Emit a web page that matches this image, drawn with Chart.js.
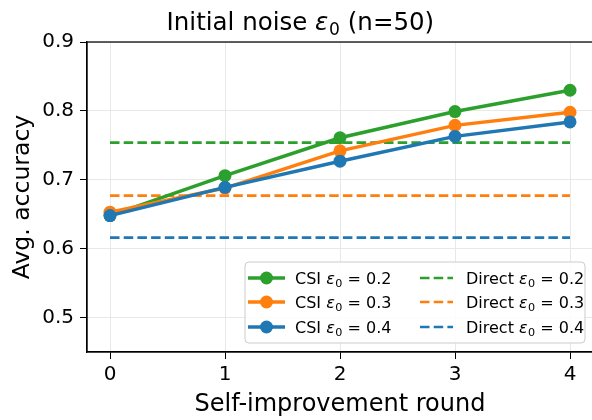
<!DOCTYPE html>
<html>
<head>
<meta charset="utf-8">
<script src="https://cdn.jsdelivr.net/npm/chart.js@4.4.0/dist/chart.umd.min.js"></script>
<style>
html,body{margin:0;padding:0;background:#fff;overflow:hidden}
#wrap{width:600px;height:420px}
</style>
</head>
<body>
<div id="wrap"><canvas id="c" width="600" height="420"></canvas></div>
<script>
// accuracy per self-improvement round, one list per initial noise level
const rounds = [0, 1, 2, 3, 4];
const noiseLevels = ['0.2', '0.3', '0.4'];
const csiNoise02 = [0.648, 0.706, 0.761, 0.799, 0.830];
const csiNoise03 = [0.653, 0.688, 0.742, 0.779, 0.798];
const csiNoise04 = [0.648, 0.689, 0.727, 0.763, 0.784];
const directAcc = [0.754, 0.677, 0.616];
const yTicks = [0.5, 0.6, 0.7, 0.8, 0.9];
const colors = ['#2ca02c', '#ff7f0e', '#1f77b4'];

const FONT = "'DejaVu Sans', sans-serif";
const csiSeries = [csiNoise02, csiNoise03, csiNoise04];

const pts = arr => arr.map((v, i) => ({x: rounds[i], y: v}));
const flat = v => [{x: rounds[0], y: v}, {x: rounds[rounds.length - 1], y: v}];

// first dataset is painted last in Chart.js, so the 0.4 curve goes first
const datasets = [];
for (let i = csiSeries.length - 1; i >= 0; i--) {
  datasets.push({
    label: 'CSI ' + noiseLevels[i],
    data: pts(csiSeries[i]),
    borderColor: colors[i], backgroundColor: colors[i],
    borderWidth: 3.5, pointRadius: 6.5, pointHoverRadius: 6.5,
    pointBorderWidth: 0, tension: 0
  });
}
directAcc.forEach((v, i) => {
  datasets.push({
    label: 'Direct ' + noiseLevels[i],
    data: flat(v),
    borderColor: colors[i], borderWidth: 2.6,
    borderDash: [9.5, 4.2], pointRadius: 0, tension: 0
  });
});

// text with an italic epsilon and subscript zero
function mathParts(pre, post){
  return [{t: pre}, {t: 'ε', it: true}, {t: '0', sub: true}, {t: post}];
}
function partFont(p, size){
  const s = p.sub ? size * 0.7 : size;
  return (p.it ? 'oblique ' : '') + s + 'px ' + FONT;
}
function partsWidth(ctx, parts, size){
  let w = 0;
  parts.forEach(p => { ctx.font = partFont(p, size); w += ctx.measureText(p.t).width; });
  return w;
}
function drawParts(ctx, parts, x, y, size, align){
  let cx = align === 'center' ? x - partsWidth(ctx, parts, size) / 2 : x;
  ctx.textBaseline = 'alphabetic';
  ctx.textAlign = 'left';
  parts.forEach(p => {
    ctx.font = partFont(p, size);
    ctx.fillText(p.t, cx, p.sub ? y + size * 0.2 : y);
    cx += ctx.measureText(p.t).width + (p.it ? size * 0.03 : 0);
  });
}

const decor = {
  id: 'decor',
  afterDraw(chart){
    const {ctx, chartArea: a} = chart;
    ctx.save();
    ctx.fillStyle = '#000';

    // frame
    ctx.strokeStyle = '#000';
    ctx.lineWidth = 1.25;
    ctx.strokeRect(a.left, a.top, a.right - a.left, a.bottom - a.top);

    // title and axis labels
    drawParts(ctx, mathParts('Initial noise ', ' (n=50)'), 300, 30, 24.5, 'center');
    ctx.font = '24px ' + FONT;
    ctx.textAlign = 'center';
    ctx.textBaseline = 'alphabetic';
    ctx.fillText('Self-improvement round', (a.left + a.right) / 2, 411);
    ctx.font = '23.5px ' + FONT;
    ctx.translate(29, (a.top + a.bottom) / 2);
    ctx.rotate(-Math.PI / 2);
    ctx.fillText('Avg. accuracy', 0, 0);
    ctx.setTransform(1, 0, 0, 1, 0, 0);

    // legend
    const bx = 245, by = 262, bw = 340, bh = 81, r = 4;
    ctx.beginPath();
    ctx.roundRect(bx, by, bw, bh, r);
    ctx.fillStyle = 'rgba(255,255,255,0.85)';
    ctx.fill();
    ctx.strokeStyle = '#cccccc';
    ctx.lineWidth = 1;
    ctx.stroke();

    const rowY = [278, 302, 327];
    noiseLevels.forEach((lvl, i) => {
      const y = rowY[i];
      ctx.strokeStyle = colors[i];
      ctx.fillStyle = colors[i];
      ctx.setLineDash([]);
      ctx.lineWidth = 3.5;
      ctx.beginPath(); ctx.moveTo(248, y); ctx.lineTo(285, y); ctx.stroke();
      ctx.beginPath(); ctx.arc(266.5, y, 6.5, 0, Math.PI * 2); ctx.fill();

      ctx.lineWidth = 2.6;
      ctx.setLineDash([9.5, 4.2]);
      ctx.beginPath(); ctx.moveTo(420, y); ctx.lineTo(453, y); ctx.stroke();
      ctx.setLineDash([]);

      ctx.fillStyle = '#000';
      drawParts(ctx, mathParts('CSI ', ' = ' + lvl), 295, y + 6, 16, 'left');
      drawParts(ctx, mathParts('Direct ', ' = ' + lvl), 466, y + 6, 16, 'left');
    });
    ctx.restore();
  }
};

new Chart(document.getElementById('c'), {
  type: 'line',
  data: {datasets},
  plugins: [decor],
  options: {
    responsive: false,
    animation: false,
    devicePixelRatio: 1,
    layout: {padding: {left: 0, top: 42, right: 7, bottom: 0}},
    plugins: {legend: {display: false}, tooltip: {enabled: false}, title: {display: false}},
    scales: {
      x: {
        type: 'linear', min: -0.2, max: 4.2,
        afterBuildTicks: s => { s.ticks = rounds.map(v => ({value: v})); },
        afterFit: s => { s.height = 68; },
        grid: {color: '#e8e8e8', lineWidth: 1, tickColor: '#000', tickLength: 7, drawTicks: true},
        border: {color: '#000', width: 1.25},
        ticks: {color: '#000', font: {family: FONT, size: 20}, padding: 4, maxRotation: 0,
          callback: v => String(v)}
      },
      y: {
        type: 'linear', min: 0.45, max: 0.9,
        afterBuildTicks: s => { s.ticks = yTicks.map(v => ({value: v})); },
        afterFit: s => { s.width = 87; },
        grid: {color: '#e8e8e8', lineWidth: 1, tickColor: '#000', tickLength: 7, drawTicks: true},
        border: {color: '#000', width: 1.25},
        ticks: {color: '#000', font: {family: FONT, size: 20}, padding: 6,
          callback: v => v.toFixed(1)}
      }
    }
  }
});
</script>
</body>
</html>
